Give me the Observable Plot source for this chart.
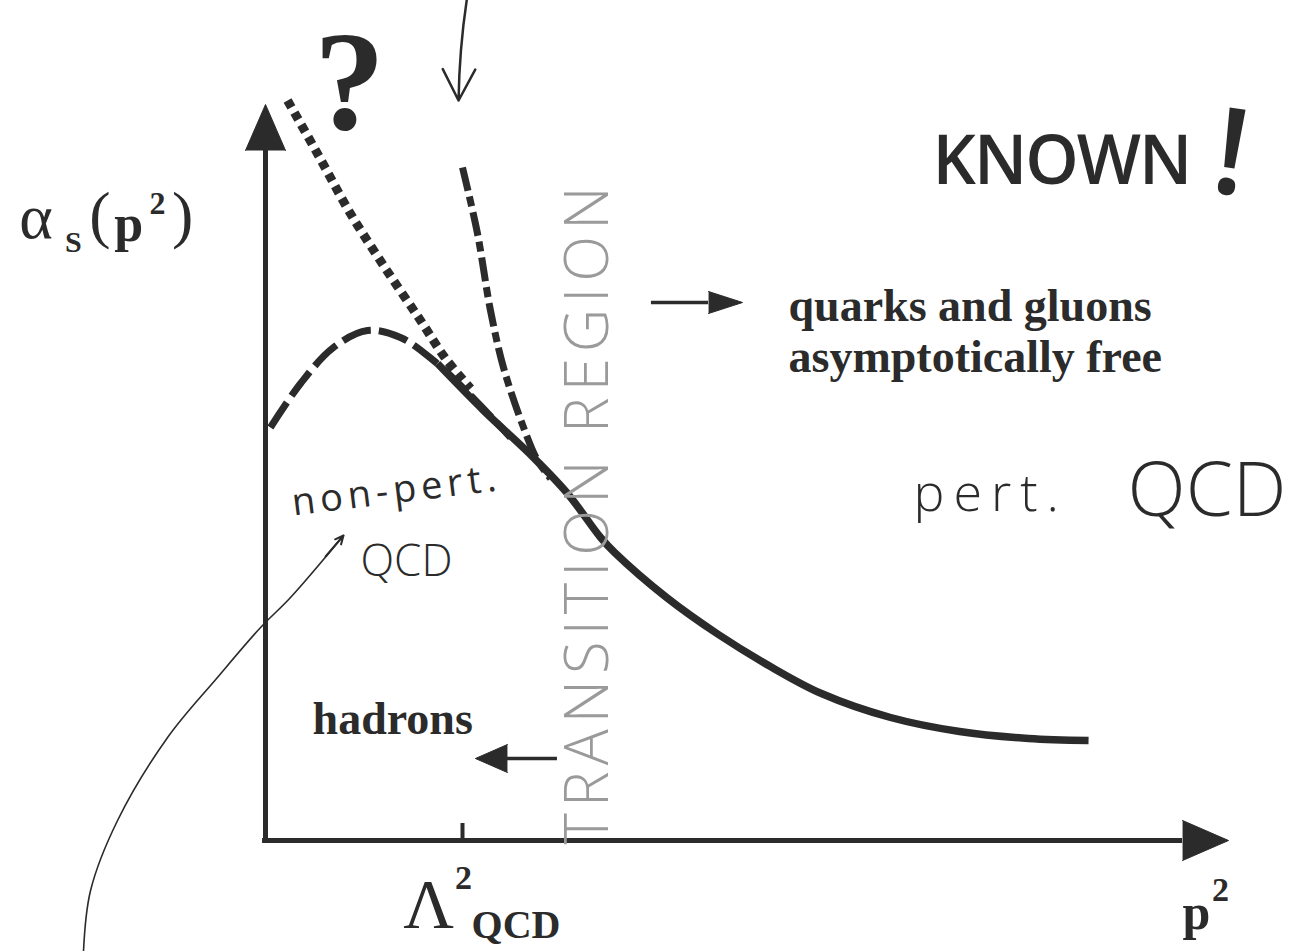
<!DOCTYPE html>
<html>
<head>
<meta charset="utf-8">
<script src="https://cdn.jsdelivr.net/npm/d3@7"></script>
<script src="https://cdn.jsdelivr.net/npm/@observablehq/plot@0.6"></script>
<style>
  html, body { margin: 0; padding: 0; background: #fff; }
  #chart { width: 1294px; height: 951px; }
</style>
</head>
<body>
<div id="chart"></div>
<script>
// Running coupling sketch: p² in units of Λ²_QCD, α_S in arbitrary units.

// Perturbative running coupling (solid), from the merge point out to large p²
const pertP2    = [0.873, 1.107, 1.360, 1.533, 1.701, 1.772, 2.036, 2.299, 2.563, 2.822, 3.173, 3.523, 3.873, 4.178];
const pertAlpha = [4.77, 4.30, 3.83, 3.47, 3.03, 2.88, 2.43, 2.06, 1.74, 1.47, 1.23, 1.09, 1.02, 1.00];

// Unknown continuation that keeps rising (dotted)
const risingP2    = [0.112, 0.269, 0.431, 0.609, 0.787, 0.914, 1.041];
const risingAlpha = [7.40, 6.85, 6.27, 5.72, 5.20, 4.82, 4.52];

// Freezing / turnover scenario (dashed)
const freezeP2    = [0.025, 0.178, 0.345, 0.518, 0.685, 0.853, 1.041, 1.244];
const freezeAlpha = [4.13, 4.57, 4.93, 5.10, 5.03, 4.80, 4.45, 4.03];

// One-loop Landau pole branch, blowing up at Λ² (dash-dot)
const poleP2    = [1.000, 1.076, 1.142, 1.208, 1.310, 1.381, 1.447];
const poleAlpha = [6.73, 6.07, 5.30, 4.73, 4.13, 3.80, 3.62];

// Axis extents and the single tick
const xAxisEnd = 4.655;
const yAxisEnd = 6.90;
const tickP2 = [1];

// Thin pointer to the "non-pert. QCD" note
const pointerP2    = [-0.924, -0.888, -0.751, -0.497, -0.244, -0.025, 0.127, 0.396];
const pointerAlpha = [-1.11, -0.50, 0.20, 1.03, 1.63, 2.13, 2.43, 3.05];

const pts = (xs, ys) => xs.map((x, i) => ({x, y: ys[i]}));

const ink = "#2b2b2b";
const serif = "Liberation Serif, Times New Roman, serif";
const hand = "Open Sans, Noto Sans, sans-serif";

// one annotation; `key` becomes the text element's aria-label so it can be styled afterwards
function note(text, x, y, opts = {}, key = "note") {
  return Plot.text([{x, y, text, key}], {
    x: "x", y: "y", text: "text", ariaLabel: "key",
    lineAnchor: "bottom", fill: ink, ...opts
  });
}

const plot = Plot.plot({
  width: 1294,
  height: 951,
  marginLeft: 265,
  marginRight: 44,
  marginTop: 40,
  marginBottom: 111,
  x: {domain: [0, 5], axis: null},
  y: {domain: [0, 8], axis: null},
  style: {background: "#fff", overflow: "visible"},
  marks: [
    // axes
    Plot.ruleY([0], {x1: -0.015, x2: xAxisEnd, stroke: ink, strokeWidth: 5}),
    Plot.ruleX([0], {y1: -0.03, y2: yAxisEnd, stroke: ink, strokeWidth: 5}),
    Plot.vector([{x: xAxisEnd, y: 0}], {x: "x", y: "y", shape: "spike", anchor: "start",
      length: 46, r: 20, rotate: 90, fill: ink, stroke: ink, strokeWidth: 1}),
    Plot.vector([{x: 0, y: yAxisEnd}], {x: "x", y: "y", shape: "spike", anchor: "start",
      length: 46, r: 20, rotate: 0, fill: ink, stroke: ink, strokeWidth: 1}),
    Plot.ruleX(tickP2, {y1: 0, y2: 0.17, stroke: ink, strokeWidth: 4}),

    // curves
    Plot.line(pts(risingP2, risingAlpha), {x: "x", y: "y", curve: "catmull-rom",
      stroke: ink, strokeWidth: 9, strokeDasharray: "8 6", strokeLinecap: "butt"}),
    Plot.line(pts(freezeP2, freezeAlpha), {x: "x", y: "y", curve: "catmull-rom",
      stroke: ink, strokeWidth: 7, strokeDasharray: "30 8", strokeLinecap: "butt"}),
    Plot.line(pts(poleP2, poleAlpha), {x: "x", y: "y", curve: "catmull-rom",
      stroke: ink, strokeWidth: 7, strokeDasharray: "24 6 10 6", strokeLinecap: "butt"}),
    Plot.line(pts(pertP2, pertAlpha), {x: "x", y: "y", curve: "catmull-rom",
      stroke: ink, strokeWidth: 7.5, strokeLinecap: "butt"}),

    // pointers
    Plot.line(pts(pointerP2, pointerAlpha), {x: "x", y: "y", curve: "catmull-rom",
      stroke: ink, strokeWidth: 1.6}),
    Plot.arrow([{x1: 0.305, y1: 2.84, x2: 0.396, y2: 3.05}], {x1: "x1", y1: "y1", x2: "x2", y2: "y2",
      stroke: ink, strokeWidth: 2, headLength: 26, headAngle: 50}),
    Plot.arrow([{x1: 1.025, y1: 8.45, x2: 0.980, y2: 7.40}], {x1: "x1", y1: "y1", x2: "x2", y2: "y2",
      stroke: ink, strokeWidth: 2.5, headLength: 24, headAngle: 55, bend: -4}),

    // region arrows
    Plot.ruleY([5.38], {x1: 1.959, x2: 2.249, stroke: ink, strokeWidth: 3.5}),
    Plot.vector([{x: 2.249, y: 5.38}], {x: "x", y: "y", shape: "spike", anchor: "start",
      length: 34, r: 11, rotate: 90, fill: ink, stroke: ink, strokeWidth: 1}),
    Plot.ruleY([0.82], {x1: 1.482, x2: 1.228, stroke: ink, strokeWidth: 3.5}),
    Plot.vector([{x: 1.228, y: 0.82}], {x: "x", y: "y", shape: "spike", anchor: "start",
      length: 32, r: 14, rotate: -90, fill: ink, stroke: ink, strokeWidth: 1}),

    // y label α_S(p²)
    note("α", -1.165, 6.03, {fontFamily: serif, fontSize: 64, textAnchor: "middle"}),
    note("S", -0.975, 5.89, {fontFamily: serif, fontSize: 30, fontWeight: "bold", textAnchor: "middle"}),
    note("(", -0.840, 6.05, {fontFamily: serif, fontSize: 64, textAnchor: "middle"}),
    note("p", -0.695, 6.00, {fontFamily: serif, fontSize: 52, fontWeight: "bold", textAnchor: "middle"}),
    note("2", -0.548, 6.27, {fontFamily: serif, fontSize: 32, fontWeight: "bold", textAnchor: "middle"}),
    note(")", -0.421, 6.05, {fontFamily: serif, fontSize: 64, textAnchor: "middle"}),

    // x labels
    note("Λ", 0.828, -0.87, {fontFamily: serif, fontSize: 70, textAnchor: "middle"}),
    note("2", 1.005, -0.48, {fontFamily: serif, fontSize: 34, fontWeight: "bold", textAnchor: "middle"}),
    note("QCD", 1.046, -0.97, {fontFamily: serif, fontSize: 40, fontWeight: "bold", textAnchor: "start"}),
    note("p", 4.726, -0.88, {fontFamily: serif, fontSize: 50, fontWeight: "bold", textAnchor: "middle"}),
    note("2", 4.848, -0.60, {fontFamily: serif, fontSize: 34, fontWeight: "bold", textAnchor: "middle"}),

    // printed region labels
    note("quarks and gluons\nasymptotically free", 2.655, 5.56, {fontFamily: serif, fontSize: 46, fontWeight: "bold",
      textAnchor: "start", lineAnchor: "top", lineHeight: 1.11}),
    note("hadrons", 0.239, 1.07, {fontFamily: serif, fontSize: 46, fontWeight: "bold", textAnchor: "start"}),

    // hand-written notes
    note("?", 0.426, 7.12, {fontFamily: serif, fontSize: 142, fontWeight: "bold", textAnchor: "middle"}),
    note("KNOWN", 3.386, 6.57, {fontFamily: hand, fontSize: 68, fontWeight: 600, textAnchor: "start"}, "known"),
    note("!", 4.873, 6.47, {fontFamily: hand, fontSize: 120, fontWeight: 600, textAnchor: "middle", rotate: 8}),
    note("pert.", 3.289, 3.30, {fontFamily: hand, fontSize: 52, fontWeight: 300, textAnchor: "start"}, "pert"),
    note("QCD", 4.376, 3.25, {fontFamily: hand, fontSize: 76, fontWeight: 300, textAnchor: "start"}),
    note("non-pert.", 0.142, 3.25, {fontFamily: hand, fontSize: 38, fontWeight: 400, textAnchor: "start", rotate: -7}, "nonpert"),
    note("QCD", 0.482, 2.65, {fontFamily: hand, fontSize: 44, fontWeight: 300, textAnchor: "start"}),
    note("TRANSITION REGION", 1.640, 3.28, {fontFamily: hand, fontSize: 60, fontWeight: 300, fill: "#9a9a9a",
      textAnchor: "middle", lineAnchor: "middle", rotate: -90}, "transition")
  ]
});

// hand lettering is spaced unevenly wide
const spacing = {known: -2, pert: 9, nonpert: 5, transition: 6};
for (const [key, px] of Object.entries(spacing)) {
  d3.select(plot).selectAll(`text[aria-label="${key}"]`).style("letter-spacing", `${px}px`);
}

document.getElementById("chart").appendChild(plot);
</script>
</body>
</html>
